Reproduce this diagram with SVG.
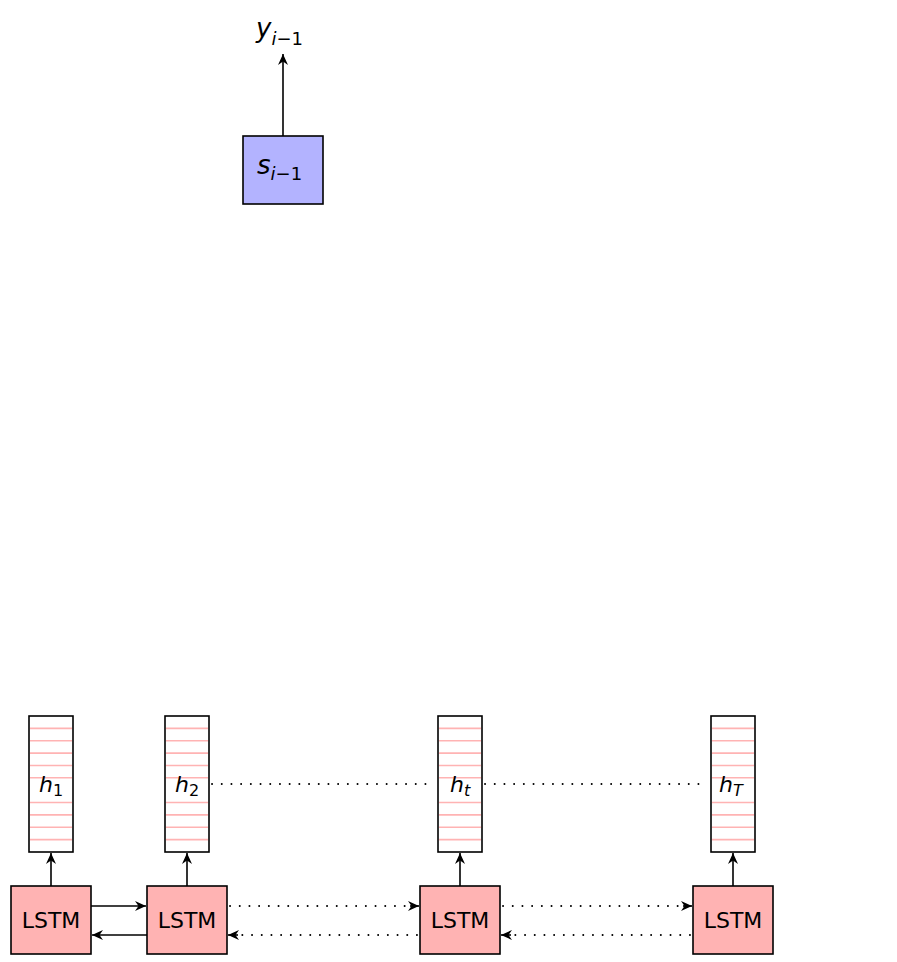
<svg xmlns="http://www.w3.org/2000/svg" width="897" height="962" viewBox="0 0 897 962">
<style>
.box{stroke:#000;stroke-width:1.6}
.lstm{fill:#ffb3b3}
.st{fill:#b3b3ff}
.vec{fill:#fff;stroke:#000;stroke-width:1.6}
.cell{stroke:#ffb3b3;stroke-width:1.6}
.lbl{font-family:"DejaVu Sans",sans-serif;fill:#000}
.c{stroke:#000;stroke-width:1.6;fill:none}
.dot{stroke:#000;stroke-width:1.9;fill:none;stroke-dasharray:0.1 9.6;stroke-linecap:round}
</style>
<defs>
<marker id="ah" viewBox="-12 -6 13 12" refX="0" refY="0" markerWidth="13" markerHeight="12" markerUnits="userSpaceOnUse" orient="auto">
<path d="M0,0 L-11,-5 L-7.5,0 L-11,5 Z" fill="#000"/>
</marker>
<g id="cells">
<line class="cell" x1="0" y1="12.4" x2="42" y2="12.4"/>
<line class="cell" x1="0" y1="24.7" x2="42" y2="24.7"/>
<line class="cell" x1="0" y1="37.1" x2="42" y2="37.1"/>
<line class="cell" x1="0" y1="49.5" x2="42" y2="49.5"/>
<line class="cell" x1="0" y1="61.8" x2="42" y2="61.8"/>
<line class="cell" x1="0" y1="86.5" x2="42" y2="86.5"/>
<line class="cell" x1="0" y1="98.9" x2="42" y2="98.9"/>
<line class="cell" x1="0" y1="111.3" x2="42" y2="111.3"/>
<line class="cell" x1="0" y1="123.6" x2="42" y2="123.6"/>
</g>
</defs>
<rect width="897" height="962" fill="#fff"/>

<g id="connectors">
<line class="c" x1="283" y1="136" x2="283" y2="54" marker-end="url(#ah)"/>
<line class="c" x1="51" y1="886" x2="51" y2="853" marker-end="url(#ah)"/>
<line class="c" x1="187" y1="886" x2="187" y2="853" marker-end="url(#ah)"/>
<line class="c" x1="460" y1="886" x2="460" y2="853" marker-end="url(#ah)"/>
<line class="c" x1="733" y1="886" x2="733" y2="853" marker-end="url(#ah)"/>
<line class="c" x1="91" y1="906" x2="146" y2="906" marker-end="url(#ah)"/>
<line class="c" x1="147" y1="935" x2="92" y2="935" marker-end="url(#ah)"/>
<line class="dot" x1="230" y1="906" x2="411" y2="906"/>
<line class="c" x1="410" y1="906" x2="419" y2="906" marker-end="url(#ah)"/>
<line class="dot" x1="417" y1="935" x2="238" y2="935"/>
<line class="c" x1="238" y1="935" x2="228" y2="935" marker-end="url(#ah)"/>
<line class="dot" x1="503" y1="906" x2="684" y2="906"/>
<line class="c" x1="683" y1="906" x2="692" y2="906" marker-end="url(#ah)"/>
<line class="dot" x1="690" y1="935" x2="511" y2="935"/>
<line class="c" x1="511" y1="935" x2="501" y2="935" marker-end="url(#ah)"/>
<line class="dot" x1="212" y1="784" x2="432" y2="784"/>
<line class="dot" x1="485" y1="784" x2="708" y2="784"/>
</g>

<g id="s">
<rect class="box st" x="243" y="136" width="80" height="68"/>
<text class="lbl" x="257" y="174" font-size="26"><tspan font-style="italic">s</tspan><tspan font-size="18" dy="6"><tspan font-style="italic">i</tspan>−1</tspan></text>
</g>
<g id="y">
<text class="lbl" x="256" y="37" font-size="26"><tspan font-style="italic">y</tspan><tspan font-size="18" dy="8"><tspan font-style="italic">i</tspan>−1</tspan></text>
</g>

<g id="h1">
<rect class="vec" x="29" y="716" width="44" height="136"/>
<use href="#cells" x="30" y="716"/>
<text class="lbl" x="39" y="792" font-size="22"><tspan font-style="italic">h</tspan><tspan font-size="16" dy="4">1</tspan></text>
</g>
<g id="h2">
<rect class="vec" x="165" y="716" width="44" height="136"/>
<use href="#cells" x="166" y="716"/>
<text class="lbl" x="175" y="792" font-size="22"><tspan font-style="italic">h</tspan><tspan font-size="16" dy="4">2</tspan></text>
</g>
<g id="ht">
<rect class="vec" x="438" y="716" width="44" height="136"/>
<use href="#cells" x="439" y="716"/>
<text class="lbl" x="450" y="792" font-size="22"><tspan font-style="italic">h</tspan><tspan font-size="16" dy="4" font-style="italic">t</tspan></text>
</g>
<g id="hT">
<rect class="vec" x="711" y="716" width="44" height="136"/>
<use href="#cells" x="712" y="716"/>
<text class="lbl" x="719" y="792" font-size="22"><tspan font-style="italic">h</tspan><tspan font-size="16" dy="4" font-style="italic">T</tspan></text>
</g>

<g id="lstm1">
<rect class="box lstm" x="11" y="886" width="80" height="68"/>
<text class="lbl" x="51" y="928" font-size="22" text-anchor="middle">LSTM</text>
</g>
<g id="lstm2">
<rect class="box lstm" x="147" y="886" width="80" height="68"/>
<text class="lbl" x="187" y="928" font-size="22" text-anchor="middle">LSTM</text>
</g>
<g id="lstmt">
<rect class="box lstm" x="420" y="886" width="80" height="68"/>
<text class="lbl" x="460" y="928" font-size="22" text-anchor="middle">LSTM</text>
</g>
<g id="lstmT">
<rect class="box lstm" x="693" y="886" width="80" height="68"/>
<text class="lbl" x="733" y="928" font-size="22" text-anchor="middle">LSTM</text>
</g>
</svg>
